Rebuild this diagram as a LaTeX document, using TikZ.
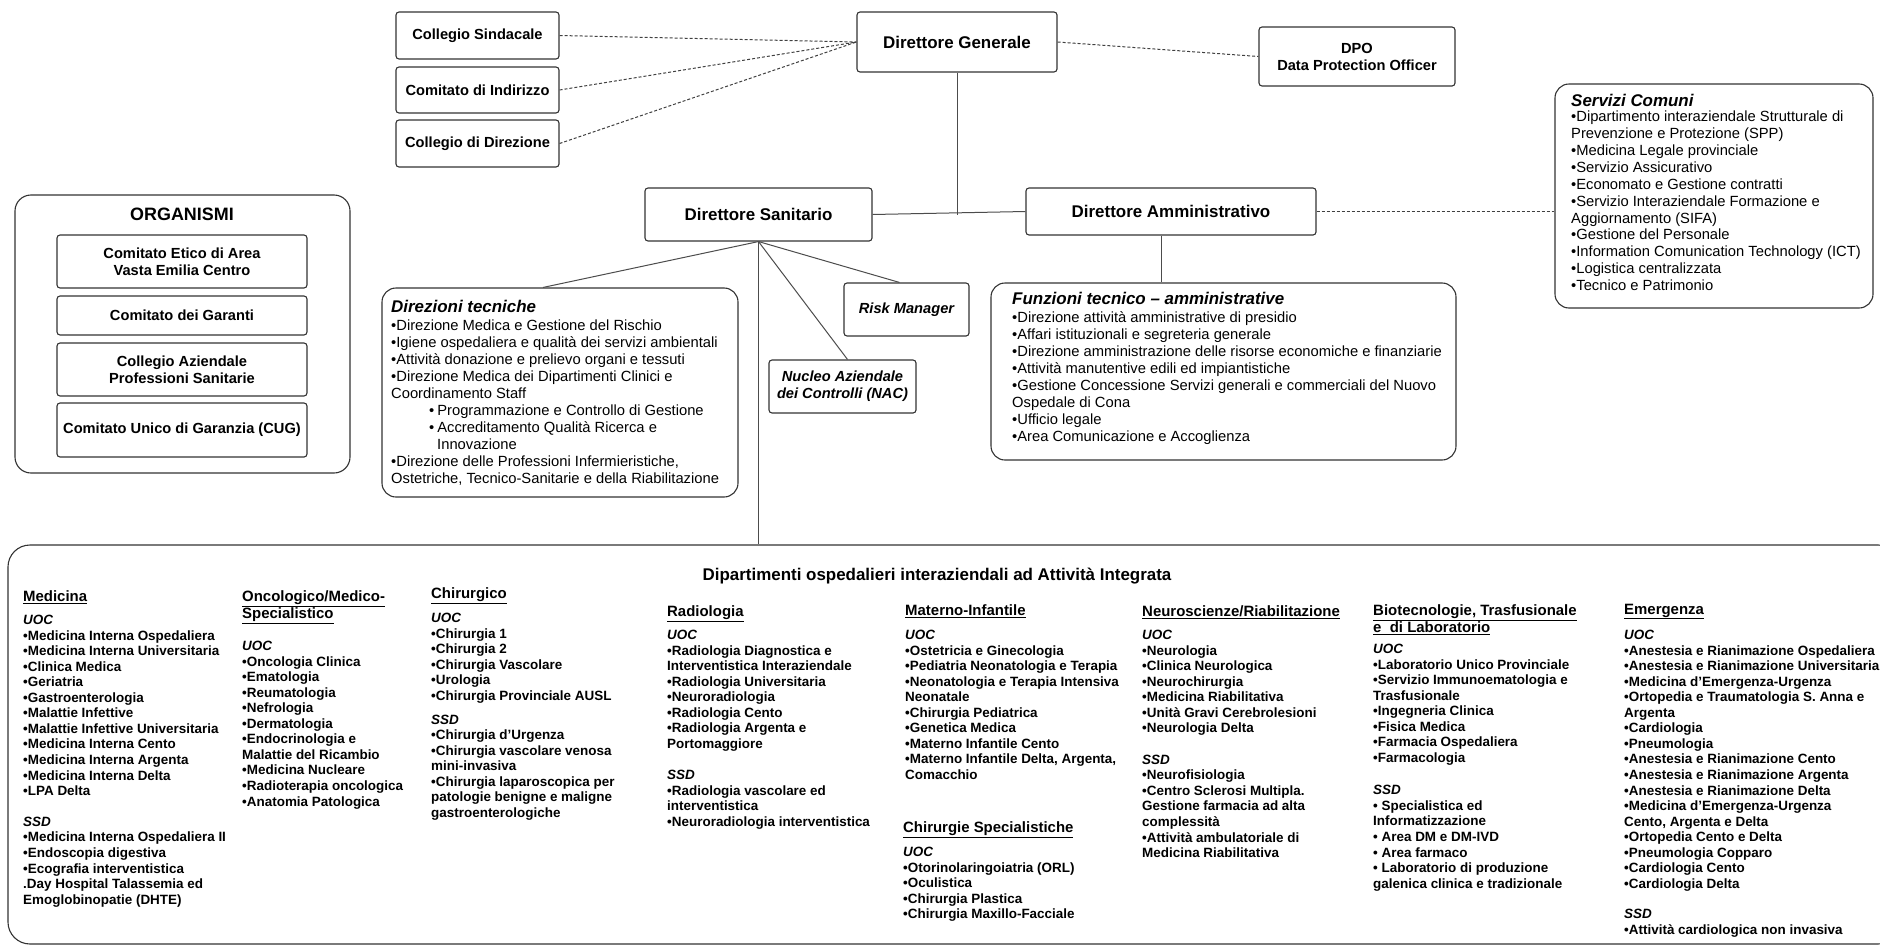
\documentclass[tikz,border=0pt]{standalone}
\usepackage{fontspec}
\setmainfont{Liberation Sans}
\begin{document}
\begin{tikzpicture}[x=1bp,y=-1bp,
  box/.style={draw=black!80, line width=1.1bp, rounded corners=3bp, fill=white, inner sep=0pt, align=center},
  bigbox/.style={draw=black!80, line width=1.1bp, rounded corners=14bp, inner sep=0pt},
  conn/.style={draw=black!70, line width=1bp},
  dashconn/.style={draw=black!75, line width=1bp, dash pattern=on 3bp off 2bp},
  toptxt/.style={font=\bfseries\fontsize{14.7}{17}\selectfont},
  dirtxt/.style={font=\bfseries\fontsize{17}{20}\selectfont},
  ttl/.style={font=\bfseries\itshape\fontsize{17}{20}\selectfont, inner sep=0pt, anchor=north west},
  lst/.style={font=\fontsize{14.8}{17}\selectfont, inner sep=0pt, anchor=north west, align=left},
  hdr/.style={font=\bfseries\fontsize{15}{17}\selectfont, inner sep=0pt, anchor=north west, align=left},
  colblk/.style={font=\bfseries\fontsize{13.5}{15.6}\selectfont, inner sep=0pt, anchor=north west, align=left}
]
\useasboundingbox (0,0) rectangle (1880,947);
\clip (0,0) rectangle (1880,947);
\fill[white] (0,0) rectangle (1880,947);

% --- top boxes
\node[box, toptxt, minimum width=163bp, minimum height=47bp] (cs) at (477.5,35.5) {Collegio Sindacale};
\node[box, toptxt, minimum width=163bp, minimum height=46bp] (ci) at (477.5,90) {Comitato di Indirizzo};
\node[box, toptxt, minimum width=163bp, minimum height=47bp] (cd) at (477.5,143.5) {Collegio di Direzione};
\node[box, dirtxt, minimum width=200bp, minimum height=60bp] (dg) at (957,42) {Direttore Generale};
\node[box, toptxt, minimum width=196bp, minimum height=59bp] (dpo) at (1357,56.5) {DPO\\Data Protection Officer};
\node[box, dirtxt, minimum width=227bp, minimum height=53bp] (ds) at (758.5,214.5) {Direttore Sanitario};
\node[box, dirtxt, minimum width=290bp, minimum height=47bp] (da) at (1171,211.5) {Direttore Amministrativo};

% --- Servizi Comuni
\node[bigbox, minimum width=318bp, minimum height=224bp] (sc) at (1714,196) {};
\node[ttl] (sct) at (1571,94) {Servizi Comuni};
\node[lst] (scl) at (1571,110.5) {%
•Dipartimento interaziendale Strutturale di\\
Prevenzione e Protezione (SPP)\\
•Medicina Legale provinciale\\
•Servizio Assicurativo\\
•Economato e Gestione contratti\\
•Servizio Interaziendale Formazione e\\
Aggiornamento (SIFA)\\
•Gestione del Personale\\
•Information Comunication Technology (ICT)\\
•Logistica centralizzata\\
•Tecnico e Patrimonio};

% --- ORGANISMI
\node[bigbox, minimum width=335bp, minimum height=278bp, rounded corners=16bp] (org) at (182.5,334) {};
\node[font=\bfseries\fontsize{18}{20}\selectfont, inner sep=0pt] (orgt) at (182,214) {ORGANISMI};
\node[box, toptxt, minimum width=250bp, minimum height=53bp] (o1) at (182,261.5) {Comitato Etico di Area\\Vasta Emilia Centro};
\node[box, toptxt, minimum width=250bp, minimum height=39bp] (o2) at (182,315.5) {Comitato dei Garanti};
\node[box, toptxt, minimum width=250bp, minimum height=53bp] (o3) at (182,369.5) {Collegio Aziendale\\Professioni Sanitarie};
\node[box, toptxt, minimum width=250bp, minimum height=54bp] (o4) at (182,430) {Comitato Unico di Garanzia (CUG)};

% --- Direzioni tecniche
\node[bigbox, minimum width=356bp, minimum height=209bp] (dt) at (560,392.5) {};
\node[ttl] (dtt) at (391,300) {Direzioni tecniche};
\node[lst] (dtl) at (391,319.7) {%
•Direzione Medica e Gestione del Rischio\\
•Igiene ospedaliera e qualità dei servizi ambientali\\
•Attività donazione e prelievo organi e tessuti\\
•Direzione Medica dei Dipartimenti Clinici e\\
Coordinamento Staff\\
\hspace*{38bp}•\hspace{3bp}Programmazione e Controllo di Gestione\\
\hspace*{38bp}•\hspace{3bp}Accreditamento Qualità Ricerca e\\
\hspace*{46bp}Innovazione\\
•Direzione delle Professioni Infermieristiche,\\
Ostetriche, Tecnico-Sanitarie e della Riabilitazione};

% --- Risk Manager, NAC
\node[box, font=\bfseries\itshape\fontsize{14.7}{17}\selectfont, minimum width=125bp, minimum height=53bp] (rm) at (906.5,309.5) {Risk Manager};
\node[box, font=\bfseries\itshape\fontsize{14.7}{17}\selectfont, minimum width=147bp, minimum height=53bp] (nac) at (842.5,386.5) {Nucleo Aziendale\\dei Controlli (NAC)};

% --- Funzioni tecnico-amministrative
\node[bigbox, minimum width=465bp, minimum height=177bp] (fz) at (1223.5,371.5) {};
\node[ttl] (fzt) at (1012,292) {Funzioni tecnico – amministrative};
\node[lst] (fzl) at (1012,311.7) {%
•Direzione attività amministrative di presidio\\
•Affari istituzionali e segreteria generale\\
•Direzione amministrazione delle risorse economiche e finanziarie\\
•Attività manutentive edili ed impiantistiche\\
•Gestione Concessione Servizi generali e commerciali del Nuovo\\
Ospedale di Cona\\
•Ufficio legale\\
•Area Comunicazione e Accoglienza};

% --- bottom box
\node[bigbox, rounded corners=22bp, minimum width=1892bp, minimum height=399bp] (bb) at (954,744.5) {};
\node[font=\bfseries\fontsize{17}{20}\selectfont, inner sep=0pt] (bbt) at (937,576) {Dipartimenti ospedalieri interaziendali ad Attività Integrata};

% Medicina
\node[hdr] (h1) at (23,590.6) {\underline{Medicina}};
\node[colblk] (c1) at (23,615) {%
\textit{UOC}\\
•Medicina Interna Ospedaliera\\
•Medicina Interna Universitaria\\
•Clinica Medica\\
•Geriatria\\
•Gastroenterologia\\
•Malattie Infettive\\
•Malattie Infettive Universitaria\\
•Medicina Interna Cento\\
•Medicina Interna Argenta\\
•Medicina Interna Delta\\
•LPA Delta\\[15.4pt]
\textit{SSD}\\
•Medicina Interna Ospedaliera II\\
•Endoscopia digestiva\\
•Ecografia interventistica\\
.Day Hospital Talassemia ed\\
Emoglobinopatie (DHTE)};

% Oncologico
\node[hdr] (h2) at (242,590.6) {\underline{Oncologico/Medico-}\\\underline{Specialistico}};
\node[colblk] (c2) at (242,641) {%
\textit{UOC}\\
•Oncologia Clinica\\
•Ematologia\\
•Reumatologia\\
•Nefrologia\\
•Dermatologia\\
•Endocrinologia e\\
Malattie del Ricambio\\
•Medicina Nucleare\\
•Radioterapia oncologica\\
•Anatomia Patologica};

% Chirurgico
\node[hdr] (h3) at (431,587.6) {\underline{Chirurgico}};
\node[colblk] (c3) at (431,613) {%
\textit{UOC}\\
•Chirurgia 1\\
•Chirurgia 2\\
•Chirurgia Vascolare\\
•Urologia\\
•Chirurgia Provinciale AUSL\\[8.4pt]
\textit{SSD}\\
•Chirurgia d’Urgenza\\
•Chirurgia vascolare venosa\\
mini-invasiva\\
•Chirurgia laparoscopica per\\
patologie benigne e maligne\\
gastroenterologiche};

% Radiologia
\node[hdr] (h4) at (667,605.6) {\underline{Radiologia}};
\node[colblk] (c4) at (667,630) {%
\textit{UOC}\\
•Radiologia Diagnostica e\\
Interventistica Interaziendale\\
•Radiologia Universitaria\\
•Neuroradiologia\\
•Radiologia Cento\\
•Radiologia Argenta e\\
Portomaggiore\\[16pt]
\textit{SSD}\\
•Radiologia vascolare ed\\
interventistica\\
•Neuroradiologia interventistica};

% Materno-Infantile
\node[hdr] (h5) at (905,604.6) {\underline{Materno-Infantile}};
\node[colblk] (c5) at (905,630) {%
\textit{UOC}\\
•Ostetricia e Ginecologia\\
•Pediatria Neonatologia e Terapia\\
•Neonatologia e Terapia Intensiva\\
Neonatale\\
•Chirurgia Pediatrica\\
•Genetica Medica\\
•Materno Infantile Cento\\
•Materno Infantile Delta, Argenta,\\
Comacchio};

% Chirurgie Specialistiche
\node[hdr] (h6) at (903,821.6) {\underline{Chirurgie Specialistiche}};
\node[colblk] (c6) at (903,847) {%
\textit{UOC}\\
•Otorinolaringoiatria (ORL)\\
•Oculistica\\
•Chirurgia Plastica\\
•Chirurgia Maxillo-Facciale};

% Neuroscienze
\node[hdr] (h7) at (1142,605.6) {\underline{Neuroscienze/Riabilitazione}};
\node[colblk] (c7) at (1142,630) {%
\textit{UOC}\\
•Neurologia\\
•Clinica Neurologica\\
•Neurochirurgia\\
•Medicina Riabilitativa\\
•Unità Gravi Cerebrolesioni\\
•Neurologia Delta\\[16pt]
\textit{SSD}\\
•Neurofisiologia\\
•Centro Sclerosi Multipla.\\
Gestione farmacia ad alta\\
complessità\\
•Attività ambulatoriale di\\
Medicina Riabilitativa};

% Biotecnologie
\node[hdr, font=\bfseries\fontsize{15}{15.5}\selectfont] (h8) at (1373,604.6) {\underline{Biotecnologie, Trasfusionale}\\\underline{e\ \ di Laboratorio}};
\node[colblk] (c8) at (1373,644) {%
\textit{UOC}\\
•Laboratorio Unico Provinciale\\
•Servizio Immunoematologia e\\
Trasfusionale\\
•Ingegneria Clinica\\
•Fisica Medica\\
•Farmacia Ospedaliera\\
•Farmacologia\\[17pt]
\textit{SSD}\\
• Specialistica ed\\
Informatizzazione\\
• Area DM e DM-IVD\\
• Area farmaco\\
• Laboratorio di produzione\\
galenica clinica e tradizionale};

% Emergenza
\node[hdr] (h9) at (1624,603.6) {\underline{Emergenza}};
\node[colblk] (c9) at (1624,630) {%
\textit{UOC}\\
•Anestesia e Rianimazione Ospedaliera\\
•Anestesia e Rianimazione Universitaria\\
•Medicina d’Emergenza-Urgenza\\
•Ortopedia e Traumatologia S. Anna e\\
Argenta\\
•Cardiologia\\
•Pneumologia\\
•Anestesia e Rianimazione Cento\\
•Anestesia e Rianimazione Argenta\\
•Anestesia e Rianimazione Delta\\
•Medicina d’Emergenza-Urgenza\\
Cento, Argenta e Delta\\
•Ortopedia Cento e Delta\\
•Pneumologia Copparo\\
•Cardiologia Cento\\
•Cardiologia Delta\\[15pt]
\textit{SSD}\\
•Attività cardiologica non invasiva};

% --- connectors
\draw[dashconn] (cs.east) -- (dg.west);
\draw[dashconn] (ci.east) -- (dg.west);
\draw[dashconn] (cd.east) -- (dg.west);
\draw[dashconn] (dg.east) -- (dpo.west);
\draw[conn] (dg.south) -- (dg.south |- ds.east);
\draw[conn] (ds.east) -- (da.west);
\draw[dashconn] (da.east) -- (da.east -| sc.west);
\draw[conn] ([xshift=-10bp]da.south) -- ([xshift=-10bp]da.south |- fz.north);
\draw[conn] (ds.south) -- ([xshift=-17bp]dt.north);
\draw[conn] (ds.south) -- ([xshift=-7bp]rm.north);
\draw[conn] (ds.south) -- ([xshift=5bp]nac.north);
\draw[conn] (ds.south) -- (ds.south |- bb.north);
\end{tikzpicture}
\end{document}
